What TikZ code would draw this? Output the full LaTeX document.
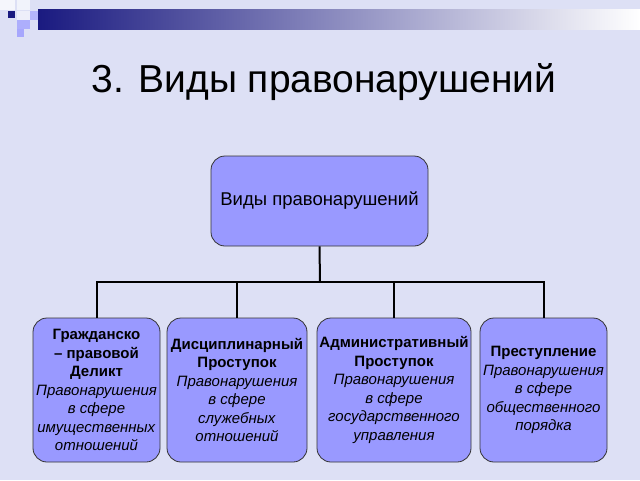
\documentclass[tikz,border=0pt]{standalone}
\usepackage{fontspec}
\setmainfont{Liberation Sans}
\begin{document}
\begin{tikzpicture}[x=1pt,y=-1pt,
  box/.style={draw=black!80,line width=0.8,fill=boxc,rounded corners=14,inner sep=0,align=center,font=\fontsize{15}{18.5}\selectfont},
  con/.style={line width=2,black}]
\definecolor{bg}{HTML}{DDE0F5}
\definecolor{boxc}{HTML}{9999FF}
\definecolor{navy}{HTML}{1A1A80}
\useasboundingbox (0,0) rectangle (640,480);
\fill[bg] (0,0) rectangle (640,480);
\shade[left color=navy,right color=white] (38,9) rectangle (640,29);
\fill[white!70!bg] (0,0) rectangle (15,10);
\fill[white!60!bg] (17,0) rectangle (30,10);
\fill[navy] (8,11) rectangle (15,18);
\fill[white!50!bg] (17,11) rectangle (30,20);
\fill[boxc!60!bg] (30,11) rectangle (38,20);
\fill[boxc!70!bg] (17,20) rectangle (30,29);
\fill[boxc!80!bg] (17,29) rectangle (24,37);
\node[anchor=west,font=\fontsize{39}{42}\selectfont] (title) at (88,82) {3. Виды правонарушений};
\node[box,minimum width=217,minimum height=90,font=\fontsize{18.5}{20}\selectfont] (top) at (319.5,201) {Виды правонарушений};
\node[box,minimum width=127,minimum height=144] (b1) at (96.5,390) {\textbf{Гражданско}\\\textbf{– правовой}\\\textbf{Деликт}\\\textit{Правонарушения}\\\textit{в сфере}\\\textit{имущественных}\\\textit{отношений}};
\node[box,minimum width=140,minimum height=144] (b2) at (237,390) {\textbf{Дисциплинарный}\\\textbf{Проступок}\\\textit{Правонарушения}\\\textit{в сфере}\\\textit{служебных}\\\textit{отношений}};
\node[box,minimum width=154,minimum height=144] (b3) at (394,390) {\textbf{Административный}\\\textbf{Проступок}\\\textit{Правонарушения}\\\textit{в сфере}\\\textit{государственного}\\\textit{управления}};
\node[box,minimum width=127,minimum height=144] (b4) at (543.5,390) {\textbf{Преступление}\\\textit{Правонарушения}\\\textit{в сфере}\\\textit{общественного}\\\textit{порядка}};
\coordinate (j) at (320,282);
\draw[con] (top.south) -- (j);
\draw[con] (b1.north) -- (b1.north |- j) -- (b4.north |- j) -- (b4.north);
\draw[con] (b2.north) -- (b2.north |- j);
\draw[con] (b3.north) -- (b3.north |- j);
\end{tikzpicture}
\end{document}
